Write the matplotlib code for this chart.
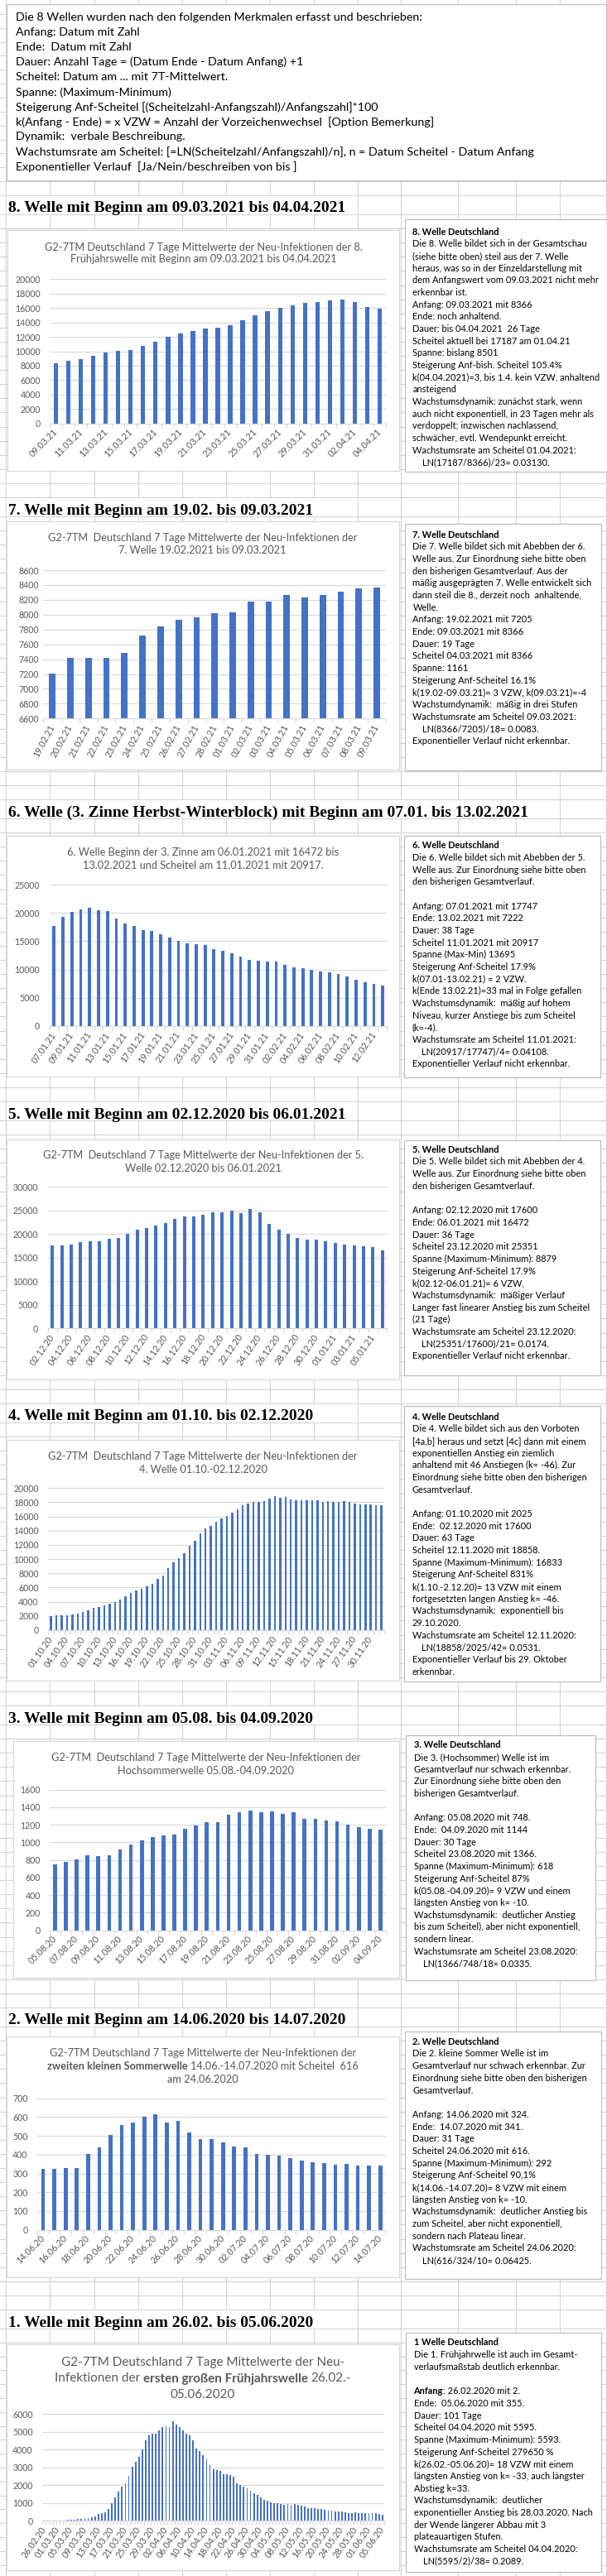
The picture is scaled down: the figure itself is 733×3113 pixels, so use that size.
import numpy as np
import pandas as pd
import matplotlib
matplotlib.use('Agg')
import matplotlib.pyplot as plt
from matplotlib.patches import Rectangle

# ---------------- data ----------------
w8_start, w8_end = '2021-03-09', '2021-04-04'
w8_values = [8366, 8700, 8930, 9390, 9880, 10070, 10190, 10760, 11340, 11950,
             12457, 12800, 13105, 13295, 13638, 14324, 14971, 15543, 16038, 16343,
             16724, 16800, 17028, 17187, 16838, 16152, 15924]

w7_start, w7_end = '2021-02-19', '2021-03-09'
w7_values = [7205, 7418, 7418, 7418, 7485, 7723, 7842, 7931, 7964, 8020,
             8031, 8176, 8176, 8265, 8232, 8265, 8310, 8355, 8366]

w6_start, w6_end = '2021-01-07', '2021-02-13'
w6_values = [17747, 19350, 20200, 20600, 20917, 20500, 20350, 18950, 18057, 17621,
             16892, 16746, 16164, 15581, 15000, 14562, 14416, 14271, 13543, 13251,
             12815, 12232, 11650, 11504, 11358, 11358, 10776, 10339, 10193, 9902,
             9611, 9465, 9174, 8737, 8155, 7718, 7427, 7222]

w5_start, w5_end = '2020-12-02', '2021-01-06'
w5_values = [17600, 17578, 17754, 18281, 18457, 18457, 18984, 19160, 20039, 20918,
             21270, 21797, 22324, 23203, 23730, 23730, 24082, 24609, 24609, 24961,
             24434, 25351, 24609, 22148, 20918, 20039, 19160, 18809, 18809, 18457,
             18106, 17754, 17578, 17402, 17227, 16472]

w4_start, w4_end = '2020-10-01', '2020-12-02'
w4_values = [2025, 2050, 2080, 2150, 2200, 2310, 2545, 2825, 3090, 3245,
             3480, 3710, 3950, 4300, 4800, 5230, 5540, 5850, 6160, 6475,
             7215, 7680, 8690, 9550, 10170, 10840, 11880, 12580, 13630, 14340,
             14690, 15230, 15740, 16130, 16560, 17060, 17600, 17880, 18070, 18070,
             18150, 18540, 18858, 18660, 18800, 18380, 18270, 18230, 18300, 18300,
             18270, 18110, 18150, 18030, 18110, 18150, 18030, 17840, 17720, 17760,
             17720, 17560, 17600]

w3_start, w3_end = '2020-08-05', '2020-09-04'
w3_values = [748, 775, 806, 850, 841, 850, 917, 976, 1020, 1058,
             1080, 1087, 1153, 1191, 1228, 1228, 1313, 1342, 1366, 1342,
             1348, 1323, 1342, 1266, 1266, 1247, 1238, 1200, 1172, 1153, 1144]

w2_start, w2_end = '2020-06-14', '2020-07-14'
w2_values = [324, 326, 330, 330, 405, 441, 507, 556, 573, 604,
             616, 573, 582, 520, 485, 481, 467, 445, 441, 405,
             401, 397, 383, 370, 361, 357, 348, 352, 344, 344, 341]

w1_start, w1_end = '2020-02-26', '2020-06-05'
w1_values = [2, 4, 7, 10, 15, 20, 28, 40, 60, 78,
             109, 124, 155, 155, 186, 264, 388, 434, 496, 667,
             1008, 1318, 1643, 1922, 2108, 2527, 3039, 3333, 3597, 4016,
             4527, 4806, 4899, 4899, 5085, 5271, 5318, 5271, 5595, 5411,
             5271, 5085, 4899, 4806, 4527, 4062, 3922, 3690, 3457, 3132,
             2899, 2853, 2806, 2620, 2620, 2589, 2496, 2108, 2015, 1922,
             1829, 1690, 1550, 1457, 1318, 1178, 1132, 1039, 992, 992,
             946, 899, 946, 899, 946, 899, 853, 806, 713, 713,
             713, 667, 667, 620, 574, 574, 543, 527, 527, 481,
             434, 434, 481, 434, 434, 434, 434, 434, 434, 388, 355]

intro_lines = [
    "Die 8 Wellen wurden nach den folgenden Merkmalen erfasst und beschrieben:",
    "Anfang: Datum mit Zahl",
    "Ende:  Datum mit Zahl",
    "Dauer: Anzahl Tage = (Datum Ende - Datum Anfang) +1",
    "Scheitel: Datum am ... mit 7T-Mittelwert.",
    "Spanne: (Maximum-Minimum)",
    "Steigerung Anf-Scheitel [(Scheitelzahl-Anfangszahl)/Anfangszahl]*100",
    "k(Anfang - Ende) = x VZW = Anzahl der Vorzeichenwechsel  [Option Bemerkung]",
    "Dynamik:  verbale Beschreibung.",
    "Wachstumsrate am Scheitel: [=LN(Scheitelzahl/Anfangszahl)/n], n = Datum Scheitel - Datum Anfang",
    "Exponentieller Verlauf  [Ja/Nein/beschreiben von bis ]",
]

headings = [
    "8. Welle mit Beginn am 09.03.2021 bis 04.04.2021",
    "7. Welle mit Beginn am 19.02. bis 09.03.2021",
    "6. Welle (3. Zinne Herbst-Winterblock) mit Beginn am 07.01. bis 13.02.2021",
    "5. Welle mit Beginn am 02.12.2020 bis 06.01.2021",
    "4. Welle mit Beginn am 01.10. bis 02.12.2020",
    "3. Welle mit Beginn am 05.08. bis 04.09.2020",
    "2. Welle mit Beginn am 14.06.2020 bis 14.07.2020",
    "1. Welle mit Beginn am 26.02. bis 05.06.2020",
]

titles = {
    8: ["G2-7TM Deutschland 7 Tage Mittelwerte der Neu-Infektionen der 8.",
        "Frühjahrswelle mit Beginn am 09.03.2021 bis 04.04.2021"],
    7: ["G2-7TM  Deutschland 7 Tage Mittelwerte der Neu-Infektionen der",
        "7. Welle 19.02.2021 bis 09.03.2021"],
    6: ["6. Welle Beginn der 3. Zinne am 06.01.2021 mit 16472 bis",
        "13.02.2021 und Scheitel am 11.01.2021 mit 20917."],
    5: ["G2-7TM  Deutschland 7 Tage Mittelwerte der Neu-Infektionen der 5.",
        "Welle 02.12.2020 bis 06.01.2021"],
    4: ["G2-7TM  Deutschland 7 Tage Mittelwerte der Neu-Infektionen der",
        "4. Welle 01.10.-02.12.2020"],
    3: ["G2-7TM  Deutschland 7 Tage Mittelwerte der Neu-Infektionen der",
        "Hochsommerwelle 05.08.-04.09.2020"],
    2: ["G2-7TM Deutschland 7 Tage Mittelwerte der Neu-Infektionen der",
        "**zweiten kleinen Sommerwelle** 14.06.-14.07.2020 mit Scheitel  616",
        "am 24.06.2020"],
    1: ["G2-7TM Deutschland 7 Tage Mittelwerte der Neu-",
        "Infektionen der **ersten großen Frühjahrswelle** 26.02.-",
        "05.06.2020"],
}

notes = {
    8: ["**8. Welle Deutschland**",
        "Die 8. Welle bildet sich in der Gesamtschau",
        "(siehe bitte oben) steil aus der 7. Welle",
        "heraus, was so in der Einzeldarstellung mit",
        "dem Anfangswert vom 09.03.2021 nicht mehr",
        "erkennbar ist.",
        "Anfang: 09.03.2021 mit 8366",
        "Ende: noch anhaltend.",
        "Dauer: bis 04.04.2021  26 Tage",
        "Scheitel aktuell bei 17187 am 01.04.21",
        "Spanne: bislang 8501",
        "Steigerung Anf-bish. Scheitel 105.4%",
        "k(04.04.2021)=3, bis 1.4. kein VZW, anhaltend",
        "ansteigend",
        "Wachstumsdynamik: zunächst stark, wenn",
        "auch nicht exponentiell, in 23 Tagen mehr als",
        "verdoppelt; inzwischen nachlassend,",
        "schwächer, evtl. Wendepunkt erreicht.",
        "Wachstumsrate am Scheitel 01.04.2021:",
        "    LN(17187/8366)/23= 0.03130."],
    7: ["**7. Welle Deutschland**",
        "Die 7. Welle bildet sich mit Abebben der 6.",
        "Welle aus. Zur Einordnung siehe bitte oben",
        "den bisherigen Gesamtverlauf. Aus der",
        "mäßig ausgeprägten 7. Welle entwickelt sich",
        "dann steil die 8., derzeit noch  anhaltende,",
        "Welle.",
        "Anfang: 19.02.2021 mit 7205",
        "Ende: 09.03.2021 mit 8366",
        "Dauer: 19 Tage",
        "Scheitel 04.03.2021 mit 8366",
        "Spanne: 1161",
        "Steigerung Anf-Scheitel 16.1%",
        "k(19.02-09.03.21)= 3 VZW, k(09.03.21)=-4",
        "Wachstumdynamik:  mäßig in drei Stufen",
        "Wachstumsrate am Scheitel 09.03.2021:",
        "    LN(8366/7205)/18= 0.0083.",
        "Exponentieller Verlauf nicht erkennbar."],
    6: ["**6. Welle Deutschland**",
        "Die 6. Welle bildet sich mit Abebben der 5.",
        "Welle aus. Zur Einordnung siehe bitte oben",
        "den bisherigen Gesamtverlauf.",
        "",
        "Anfang: 07.01.2021 mit 17747",
        "Ende: 13.02.2021 mit 7222",
        "Dauer: 38 Tage",
        "Scheitel 11.01.2021 mit 20917",
        "Spanne (Max-Min) 13695",
        "Steigerung Anf-Scheitel 17.9%",
        "k(07.01-13.02.21) = 2 VZW.",
        "k(Ende 13.02.21)=33 mal in Folge gefallen",
        "Wachstumsdynamik:  mäßig auf hohem",
        "Niveau, kurzer Anstiege bis zum Scheitel",
        "(k=-4).",
        "Wachstumsrate am Scheitel 11.01.2021:",
        "    LN(20917/17747)/4= 0.04108.",
        "Exponentieller Verlauf nicht erkennbar."],
    5: ["**5. Welle Deutschland**",
        "Die 5. Welle bildet sich mit Abebben der 4.",
        "Welle aus. Zur Einordnung siehe bitte oben",
        "den bisherigen Gesamtverlauf.",
        "",
        "Anfang: 02.12.2020 mit 17600",
        "Ende: 06.01.2021 mit 16472",
        "Dauer: 36 Tage",
        "Scheitel 23.12.2020 mit 25351",
        "Spanne (Maximum-Minimum): 8879",
        "Steigerung Anf-Scheitel 17.9%",
        "k(02.12-06.01.21)= 6 VZW,",
        "Wachstumsdynamik:  mäßiger Verlauf",
        "Langer fast linearer Anstieg bis zum Scheitel",
        "(21 Tage)",
        "Wachstumsrate am Scheitel 23.12.2020:",
        "    LN(25351/17600)/21= 0.0174.",
        "Exponentieller Verlauf nicht erkennbar."],
    4: ["**4. Welle Deutschland**",
        "Die 4. Welle bildet sich aus den Vorboten",
        "[4a,b] heraus und setzt [4c] dann mit einem",
        "exponentiellen Anstieg ein ziemlich",
        "anhaltend mit 46 Anstiegen (k= -46). Zur",
        "Einordnung siehe bitte oben den bisherigen",
        "Gesamtverlauf.",
        "",
        "Anfang: 01.10.2020 mit 2025",
        "Ende:  02.12.2020 mit 17600",
        "Dauer: 63 Tage",
        "Scheitel 12.11.2020 mit 18858.",
        "Spanne (Maximum-Minimum): 16833",
        "Steigerung Anf-Scheitel 831%",
        "k(1.10.-2.12.20)= 13 VZW mit einem",
        "fortgesetzten langen Anstieg k= -46.",
        "Wachstumsdynamik:  exponentiell bis",
        "29.10.2020.",
        "Wachstumsrate am Scheitel 12.11.2020:",
        "    LN(18858/2025/42= 0.0531.",
        "Exponentieller Verlauf bis 29. Oktober",
        "erkennbar."],
    3: ["**3. Welle Deutschland**",
        "Die 3. (Hochsommer) Welle ist im",
        "Gesamtverlauf nur schwach erkennbar.",
        "Zur Einordnung siehe bitte oben den",
        "bisherigen Gesamtverlauf.",
        "",
        "Anfang: 05.08.2020 mit 748.",
        "Ende:  04.09.2020 mit 1144",
        "Dauer: 30 Tage",
        "Scheitel 23.08.2020 mit 1366.",
        "Spanne (Maximum-Minimum): 618",
        "Steigerung Anf-Scheitel 87%",
        "k(05.08.-04.09.20)= 9 VZW und einem",
        "längsten Anstieg von k= -10.",
        "Wachstumsdynamik:  deutlicher Anstieg",
        "bis zum Scheitel), aber nicht exponentiell,",
        "sondern linear.",
        "Wachstumsrate am Scheitel 23.08.2020:",
        "    LN(1366/748/18= 0.0335."],
    2: ["**2. Welle Deutschland**",
        "Die 2. kleine Sommer Welle ist im",
        "Gesamtverlauf nur schwach erkennbar. Zur",
        "Einordnung siehe bitte oben den bisherigen",
        "Gesamtverlauf.",
        "",
        "Anfang: 14.06.2020 mit 324.",
        "Ende:  14.07.2020 mit 341.",
        "Dauer: 31 Tage",
        "Scheitel 24.06.2020 mit 616.",
        "Spanne (Maximum-Minimum): 292",
        "Steigerung Anf-Scheitel 90,1%",
        "k(14.06.-14.07.20)= 8 VZW mit einem",
        "längsten Anstieg von k= -10.",
        "Wachstumsdynamik:  deutlicher Anstieg bis",
        "zum Scheitel, aber nicht exponentiell,",
        "sondern nach Plateau linear.",
        "Wachstumsrate am Scheitel 24.06.2020:",
        "    LN(616/324/10= 0.06425."],
    1: ["**1 Welle Deutschland**",
        "Die 1. Frühjahrwelle ist auch im Gesamt-",
        "verlaufsmaßstab deutlich erkennbar.",
        "",
        "**Anfang**: 26.02.2020 mit 2.",
        "Ende:  05.06.2020 mit 355.",
        "Dauer: 101 Tage",
        "Scheitel 04.04.2020 mit 5595.",
        "Spanne (Maximum-Minimum): 5593.",
        "Steigerung Anf-Scheitel 279650 %",
        "k(26.02.-05.06.20)= 18 VZW mit einem",
        "längsten Anstieg von k= -33, auch längster",
        "Abstieg k=33.",
        "Wachstumsdynamik:  deutlicher",
        "exponentieller Anstieg bis 28.03.2020. Nach",
        "der Wende längerer Abbau mit 3",
        "plateauartigen Stufen.",
        "Wachstumsrate am Scheitel 04.04.2020:",
        "    LN(5595/2)/38= 0.2089."],
}

# ---------------- layout (pixels, top-left origin) ----------------
W, H = 733, 3113
SANS = ['Lato', 'DejaVu Sans']
SERIF = ['Liberation Serif', 'DejaVu Serif']
plt.rcParams['font.family'] = SANS

BAR = '#4472C4'
GREY_TXT = '#595959'
GRID = '#D9D9D9'

heading_y = [250, 615, 980, 1345, 1710, 2075, 2440, 2805]

layout = {
    8: dict(vals=w8_values, start=w8_start, end=w8_end, plot=(60, 337.3, 466, 511.7),
            ylim=(0, 20000), ystep=2000, lstep=2, rot=45, ypad=11, bw=0.355,
            cbox=(9, 278, 482, 569), tbox=(488.5, 265, 733, 570), t0=279,
            tx=246, ty=[298.3, 312.3], tsize=9.2),
    7: dict(vals=w7_values, start=w7_start, end=w7_end, plot=(52.4, 689, 466, 868.3),
            ylim=(6600, 8600), ystep=200, lstep=1, rot=62, ypad=5.6, bw=0.355,
            cbox=(8.4, 630, 482, 930), tbox=(488.5, 633, 725.5, 930.7), t0=645,
            tx=244.5, ty=[649, 664.3], tsize=9.2),
    6: dict(vals=w6_values, start=w6_start, end=w6_end, plot=(60, 1069, 467.5, 1240),
            ylim=(0, 25000), ystep=5000, lstep=2, rot=55, ypad=12.3, bw=0.355,
            cbox=(8.4, 1010, 482, 1300.7), tbox=(487.6, 1010, 724.6, 1301.7), t0=1020.7,
            tx=245, ty=[1029.3, 1045], tsize=9.2),
    5: dict(vals=w5_values, start=w5_start, end=w5_end, plot=(57.5, 1434.3, 467.5, 1605),
            ylim=(0, 30000), ystep=5000, lstep=2, rot=55, ypad=11.7, bw=0.355,
            cbox=(8.4, 1376.7, 482, 1666.7), tbox=(487.6, 1377.7, 724.6, 1661.7), t0=1388.3,
            tx=245, ty=[1395, 1411], tsize=9.2),
    4: dict(vals=w4_values, start=w4_start, end=w4_end, plot=(58.4, 1798.3, 463.8, 1970),
            ylim=(0, 20000), ystep=2000, lstep=3, rot=55, ypad=11.6, bw=0.38,
            cbox=(8.4, 1740, 482, 2031), tbox=(487.6, 1699.3, 724.6, 2031.7), t0=1711,
            tx=245, ty=[1759.3, 1775], tsize=9.2),
    3: dict(vals=w3_values, start=w3_start, end=w3_end, plot=(59.8, 2162.7, 466, 2332.5),
            ylim=(0, 1600), ystep=200, lstep=2, rot=45, ypad=10.8, bw=0.355,
            cbox=(16.4, 2104, 482, 2390.3), tbox=(489.5, 2096.7, 718.5, 2393), t0=2107.7,
            tx=249, ty=[2123.3, 2139], tsize=9.2),
    2: dict(vals=w2_values, start=w2_start, end=w2_end, plot=(45.3, 2535.7, 466, 2694.7),
            ylim=(0, 700), ystep=100, lstep=2, rot=45, ypad=11.6, bw=0.355,
            cbox=(8.4, 2461.3, 482, 2752.3), tbox=(488.5, 2454.7, 725.5, 2754), t0=2466.3,
            tx=245, ty=[2479.7, 2495.7, 2512], tsize=9.2),
    1: dict(vals=w1_values, start=w1_start, end=w1_end, plot=(51.4, 2917.3, 463.8, 3046.3),
            ylim=(0, 6000), ystep=1000, lstep=4, rot=55, ypad=11.7, bw=0.45,
            cbox=(8.4, 2833, 482, 3106), tbox=(489.5, 2819, 725.5, 3108), t0=2830,
            tx=245, ty=[2853, 2873, 2892], tsize=11),
}

fig = plt.figure(figsize=(W / 100, H / 100), dpi=100)
bg = fig.add_axes([0, 0, 1, 1])
bg.set_xlim(0, W)
bg.set_ylim(H, 0)
bg.axis('off')
renderer = fig.canvas.get_renderer()

# spreadsheet grid
cols = [7, 60, 114, 167, 220, 273, 326, 379, 432, 484, 553, 623, 676, 732]
for x in cols:
    bg.plot([x, x], [0, H], color='#D4D4D4', lw=0.8, zorder=0)
rows = []
prev = 0.0
for hy in heading_y:
    top = hy - 14
    n = max(1, int(round((top - prev) / 16.8)))
    rows += list(np.linspace(prev, top, n + 1)[1:])
    rows.append(hy + 9)
    prev = hy + 9
rows += list(np.arange(prev + 16.8, H, 16.8))
for y in rows:
    bg.plot([0, W], [y, y], color='#D4D4D4', lw=0.8, zorder=0)


def box(l, t, r, b, ec):
    bg.add_patch(Rectangle((l, t), r - l, b - t, facecolor='white', edgecolor=ec,
                           lw=0.9, zorder=2))


_sp = {}


def text_w(s, size, weight, family):
    t = bg.text(0, 0, s, fontsize=size, fontweight=weight, family=family)
    w = t.get_window_extent(renderer).width
    t.remove()
    return w


def space_w(size, weight, family):
    key = (size, weight, tuple(family))
    if key not in _sp:
        _sp[key] = text_w('n n', size, weight, family) - text_w('nn', size, weight, family)
    return _sp[key]


def draw_line(x, y, line, size, color='black', family=SANS, align='left', base='normal'):
    parts = line.split('**')
    items, total = [], 0.0
    for i, p in enumerate(parts):
        if p == '':
            continue
        wt = 'bold' if i % 2 else base
        lead = len(p) - len(p.lstrip(' '))
        trail = len(p) - len(p.rstrip(' '))
        core = p.strip(' ')
        sp = space_w(size, wt, family)
        cw = text_w(core, size, wt, family) if core else 0.0
        items.append((lead * sp, core, wt, cw, trail * sp))
        total += lead * sp + cw + trail * sp
    x0 = x - total / 2 if align == 'center' else x
    for a, core, wt, cw, c in items:
        x0 += a
        if core:
            bg.text(x0, y, core, fontsize=size, fontweight=wt, family=family, color=color,
                    ha='left', va='center_baseline', zorder=4)
        x0 += cw + c
    return x0


# intro box
box(8, 5, 732, 217.7, '#BFBFBF')
for i, line in enumerate(intro_lines):
    draw_line(18.7, 20 + i * 18.05, line, 10.3)

# headings (cells overflow: hide gridlines behind the text)
for text, hy in zip(headings, heading_y):
    wdt = text_w(text, 14, 'bold', SERIF)
    end = 10 + wdt
    cover = min([c for c in cols if c > end + 2] + [732])
    bg.add_patch(Rectangle((7.5, hy - 13.5), cover - 8, 22, facecolor='white',
                           edgecolor='none', zorder=1))
    bg.text(10, hy, text, fontsize=14, fontweight='bold', family=SERIF, color='black',
            ha='left', va='center_baseline', zorder=4)

for key in [8, 7, 6, 5, 4, 3, 2, 1]:
    L = layout[key]
    box(*L['cbox'], '#D9D9D9')
    box(*L['tbox'], '#BFBFBF')
    # chart title
    for line, yy in zip(titles[key], L['ty']):
        draw_line(L['tx'], yy, line, L['tsize'], color=GREY_TXT, align='center')
    # note text
    for i, line in enumerate(notes[key]):
        if line:
            draw_line(L['tbox'][0] + 10, L['t0'] + i * 14.68, line, 7.9, color='black')

    # chart
    l, t, r, b = L['plot']
    ax = fig.add_axes([l / W, 1 - b / H, (r - l) / W, (b - t) / H])
    ax.patch.set_alpha(0)
    vals = L['vals']
    dates = pd.date_range(L['start'], L['end'], freq='D')
    labels = [d.strftime('%d.%m.%y') for d in dates]
    n = len(vals)
    x = np.arange(n)
    ax.bar(x, vals, width=L['bw'], color=BAR, zorder=3)
    ax.set_xlim(-0.5, n - 0.5)
    y0, y1 = L['ylim']
    ax.set_ylim(y0, y1)
    ax.set_yticks(np.arange(y0, y1 + 1, L['ystep']))
    ax.yaxis.grid(True, color=GRID, lw=0.8)
    ax.set_axisbelow(True)
    for s in ['left', 'right', 'top']:
        ax.spines[s].set_visible(False)
    ax.spines['bottom'].set_color(GRID)
    ax.spines['bottom'].set_linewidth(0.8)
    ax.spines['bottom'].set_zorder(4)
    ax.tick_params(axis='y', length=0, pad=L['ypad'] * 0.72, labelsize=7.6,
                   labelcolor=GREY_TXT)
    for lab in ax.get_yticklabels():
        lab.set_family(SANS)
    pos = x[::L['lstep']]
    ax.set_xticks(pos)
    ax.set_xticklabels([labels[i] for i in pos], rotation=L['rot'], ha='right',
                       va='center', rotation_mode='anchor')
    ax.set_xticks(np.arange(-0.5, n, 1), minor=True)
    ax.tick_params(axis='x', which='major', length=0, pad=6, labelsize=7.8,
                   labelcolor=GREY_TXT)
    ax.tick_params(axis='x', which='minor', length=3.5, width=0.8, color=GRID)

fig.savefig('out.png', dpi=100)
